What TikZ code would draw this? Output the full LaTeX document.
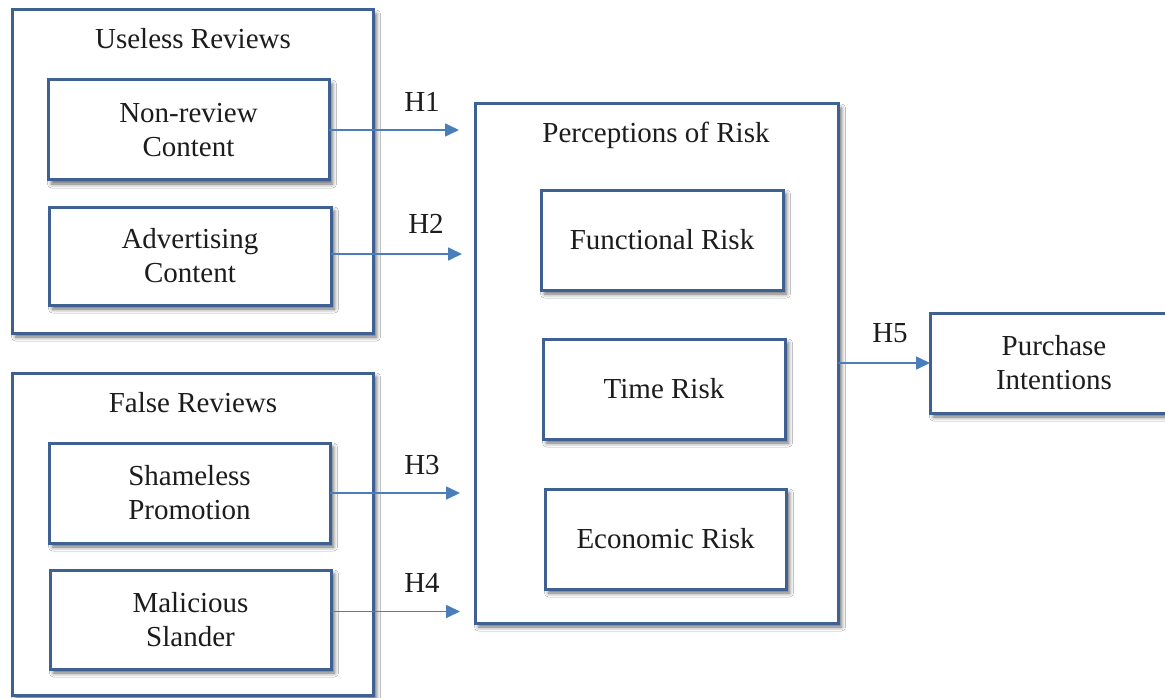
\documentclass[tikz,border=0pt]{standalone}
\usepackage{fontspec}
\setmainfont{Liberation Serif}
\usetikzlibrary{shadows.blur,arrows.meta}
\definecolor{boxblue}{RGB}{62,96,146}
\definecolor{arrblue}{RGB}{74,126,187}
\definecolor{txtc}{RGB}{28,28,28}
\begin{document}
\begin{tikzpicture}[x=1pt,y=-1pt,
  font=\fontsize{29}{34}\selectfont, text=txtc,
  box/.style={draw=boxblue, line width=3pt, fill=white, rectangle,
    anchor=north west, inner sep=0pt, outer sep=0pt, align=center,
    blur shadow={shadow xshift=3.5pt, shadow yshift=-4pt,
      shadow blur radius=4pt, shadow opacity=60}},
  arr/.style={draw=arrblue, line width=1.7pt,
    -{Triangle[length=14pt,width=13pt]}},
  hlab/.style={inner sep=0pt},
  ttl/.style={anchor=base, inner sep=0pt}]
\clip (0,0) rectangle (1165,698);
\useasboundingbox (0,0) rectangle (1165,698);
\fill[white] (0,0) rectangle (1165,698);

% outer group boxes
\node[box, minimum width=361pt, minimum height=323pt] (ur) at (12,10) {};
\node[ttl] (urt) at (193,48.5) {Useless Reviews};
\node[box, minimum width=361pt, minimum height=322pt] (fr) at (12,373) {};
\node[ttl] (frt) at (193,412.5) {False Reviews};
\node[box, minimum width=363pt, minimum height=519pt] (per) at (475,104) {};
\node[ttl] (pert) at (656,142.5) {Perceptions of Risk};

% inner boxes
\node[box, minimum width=281pt, minimum height=100pt] (nr) at (48,80) {Non-review\\Content};
\node[box, minimum width=282pt, minimum height=98pt] (ad) at (49,207) {Advertising\\Content};
\node[box, minimum width=281pt, minimum height=100pt] (sp) at (49,443) {Shameless\\Promotion};
\node[box, minimum width=281pt, minimum height=99pt] (ms) at (50,570) {Malicious\\Slander};
\node[box, minimum width=242pt, minimum height=100pt] (fun) at (541,190) {Functional Risk};
\node[box, minimum width=242pt, minimum height=100pt] (tim) at (543,339) {Time Risk};
\node[box, minimum width=241pt, minimum height=100pt] (eco) at (545,489) {Economic Risk};
\node[box, minimum width=248pt, minimum height=100pt] (pi) at (930,313) {Purchase\\Intentions};

% arrows
\draw[arr, shorten >=16pt] (nr.east) -- (nr.east -| per.west);
\draw[arr, shorten >=13pt] ([yshift=2pt]ad.east) -- ([yshift=2pt]ad.east -| per.west);
\draw[arr, shorten >=15pt] (sp.east) -- (sp.east -| per.west);
\draw[arr, shorten >=15pt] ([yshift=8pt]ms.east) -- ([yshift=8pt]ms.east -| per.west);
\draw[arr] (per.east |- pi.west) -- (pi.west);

% labels
\node[hlab] (h1) at (422,102) {H1};
\node[hlab] (h2) at (426,224) {H2};
\node[hlab] (h3) at (422,465) {H3};
\node[hlab] (h4) at (422,583) {H4};
\node[hlab] (h5) at (890,333) {H5};
\end{tikzpicture}
\end{document}
